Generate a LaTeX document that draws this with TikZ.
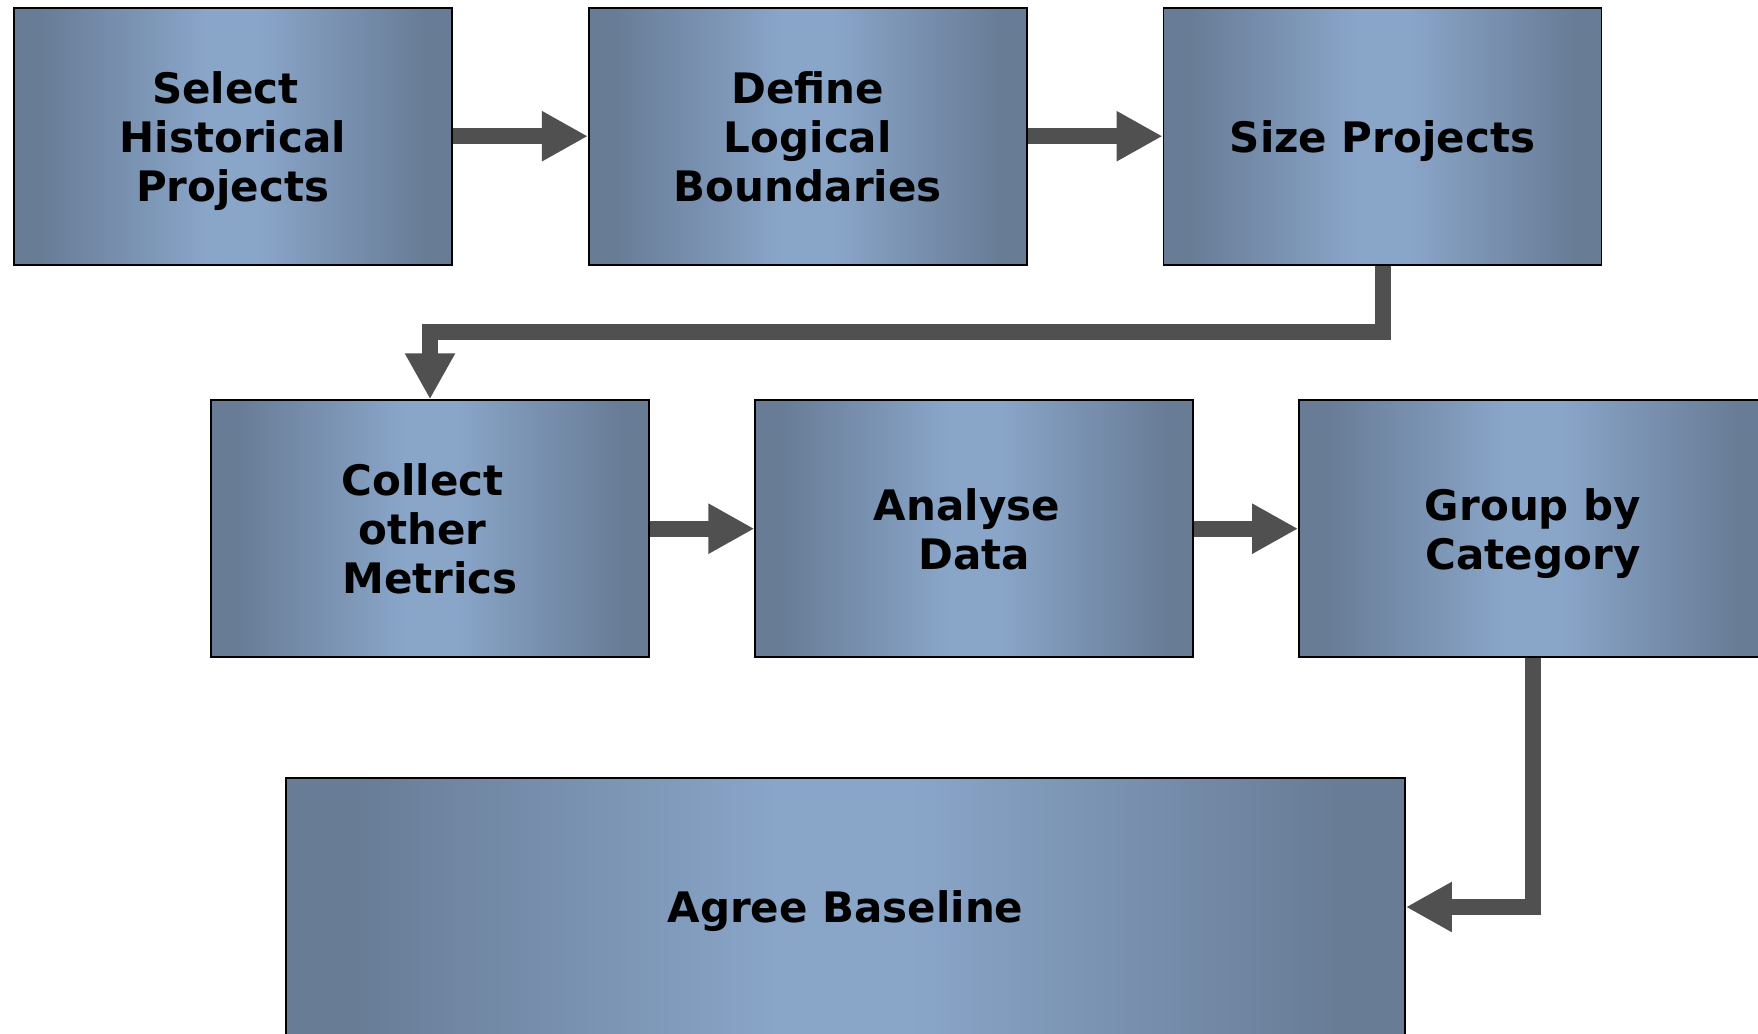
\documentclass[tikz,border=0pt]{standalone}
\usepackage{fontspec}
\setmainfont{DejaVu Sans}
\usetikzlibrary{arrows.meta}
\definecolor{boxedge}{RGB}{104,124,150}
\definecolor{boxmid}{RGB}{137,165,200}
\definecolor{flowgrey}{RGB}{80,80,80}
% dark edges, broad light band in the middle (path spans 25bp..75bp)
\pgfdeclarehorizontalshading{stagefill}{100bp}{%
  color(0bp)=(boxedge); color(28bp)=(boxedge);
  color(47bp)=(boxmid); color(53bp)=(boxmid);
  color(72bp)=(boxedge); color(100bp)=(boxedge)}
% centred label lines, nudged slightly below the box centre
\newcommand\stagetext[1]{\raisebox{-6pt}[\height][\depth]{\begin{tabular}{@{}c@{}}#1\end{tabular}}}
% a trailing word space kept at the end of a line
\newcommand\tsp{\kern.35em}
\tikzset{
  stage/.style={draw=black, line width=1.8pt, shading=stagefill,
    font=\fontsize{42}{49}\selectfont\bfseries,
    minimum width=438pt, minimum height=257pt, inner sep=0pt},
  flow/.style={draw=flowgrey, line width=16pt, line join=miter,
    -{Triangle[length=46pt,width=47pt]}}
}
\begin{document}
\begin{tikzpicture}[x=1pt,y=-1pt]
  \useasboundingbox (0,0) rectangle (1758,1033);
  \clip (0,0) rectangle (1758,1033);

  % first row
  \node[stage] (b1) at (232.7,136.2) {\stagetext{Select\tsp\\Historical\\Projects}};
  \node[stage] (b2) at (807.8,136.2) {\stagetext{Define\\Logical\\Boundaries}};
  \node[stage] (b3) at (1382.5,136.2) {\stagetext{Size Projects}};

  % second row
  \node[stage] (b4) at (430,528.7) {\stagetext{Collect\tsp\\other\tsp\\Metrics}};
  \node[stage] (b5) at (974.3,528.7) {\stagetext{Analyse\tsp\\Data}};
  \node[stage, minimum width=468pt] (b6) at (1533,528.7) {\stagetext{Group by\\Category}};

  % final step
  \node[stage, minimum width=1119pt, minimum height=258pt] (b7) at (845.5,907) {\stagetext{Agree Baseline}};

  % connectors
  \draw[flow] (b1) -- (b2);
  \draw[flow] (b2) -- (b3);
  \coordinate (turn) at (1382.5,332);
  \draw[flow] (b3.south) -- (turn) -| (b4.north);
  \draw[flow] (b4) -- (b5);
  \draw[flow] (b5) -- (b6);
  \draw[flow] (b6.south) |- (b7.east);
\end{tikzpicture}
\end{document}
